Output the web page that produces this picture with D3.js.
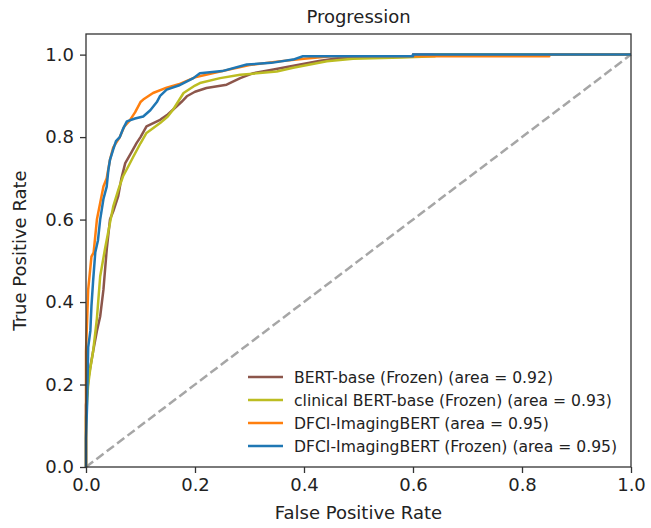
<!DOCTYPE html>
<html>
<head>
<meta charset="utf-8">
<script src="https://cdn.jsdelivr.net/npm/d3@7"></script>
<style>
  body { margin: 0; background: #fff; }
  text { font-family: "DejaVu Sans", sans-serif; fill: #222; }
</style>
</head>
<body>
<script>
// ROC points [fpr, tpr]
var bertBase = [[0,0],[0,0.15],[0.005,0.22],[0.013,0.28],[0.02,0.33],[0.026,0.365],[0.032,0.43],[0.038,0.527],[0.044,0.60],[0.05,0.62],[0.059,0.656],[0.065,0.70],[0.072,0.737],[0.082,0.76],[0.093,0.786],[0.1,0.80],[0.111,0.826],[0.136,0.842],[0.15,0.855],[0.16,0.867],[0.175,0.885],[0.185,0.899],[0.2,0.91],[0.221,0.919],[0.258,0.927],[0.283,0.943],[0.307,0.955],[0.344,0.964],[0.393,0.976],[0.43,0.985],[0.466,0.992],[0.6,0.996],[0.6,1.0],[1,1]];
var clinicalBert = [[0,0],[0,0.12],[0.004,0.2],[0.008,0.24],[0.013,0.28],[0.02,0.36],[0.026,0.462],[0.035,0.53],[0.044,0.592],[0.05,0.632],[0.06,0.675],[0.068,0.705],[0.078,0.73],[0.087,0.753],[0.1,0.785],[0.111,0.81],[0.136,0.834],[0.15,0.85],[0.16,0.867],[0.179,0.907],[0.2,0.925],[0.209,0.931],[0.246,0.943],[0.283,0.951],[0.35,0.959],[0.38,0.968],[0.442,0.984],[0.49,0.99],[0.58,0.993],[0.64,0.996],[0.64,1.0],[1,1]];
var imagingBert = [[0,0],[0,0.28],[0.004,0.43],[0.007,0.47],[0.010,0.51],[0.014,0.52],[0.020,0.60],[0.026,0.64],[0.032,0.68],[0.038,0.70],[0.044,0.745],[0.05,0.775],[0.062,0.80],[0.07,0.825],[0.08,0.84],[0.09,0.86],[0.1,0.885],[0.105,0.891],[0.123,0.907],[0.148,0.92],[0.17,0.928],[0.2,0.945],[0.25,0.96],[0.3,0.975],[0.35,0.983],[0.4,0.99],[0.45,0.996],[0.85,0.996],[0.85,1.0],[1,1]];
var imagingBertFrozen = [[0,0],[0,0.07],[0.002,0.15],[0.004,0.29],[0.008,0.33],[0.010,0.39],[0.013,0.45],[0.017,0.52],[0.022,0.55],[0.026,0.60],[0.032,0.65],[0.038,0.68],[0.041,0.72],[0.044,0.745],[0.05,0.77],[0.055,0.79],[0.062,0.80],[0.068,0.82],[0.075,0.838],[0.09,0.845],[0.105,0.85],[0.118,0.865],[0.13,0.885],[0.136,0.90],[0.148,0.915],[0.17,0.925],[0.197,0.943],[0.209,0.955],[0.25,0.96],[0.295,0.976],[0.34,0.98],[0.38,0.988],[0.398,0.996],[0.6,0.996],[0.6,1.0],[1,1]];

var seriesNames = ["BERT-base (Frozen) (area = 0.92)", "clinical BERT-base (Frozen) (area = 0.93)",
                   "DFCI-ImagingBERT (area = 0.95)", "DFCI-ImagingBERT (Frozen) (area = 0.95)"];
var seriesData = [bertBase, clinicalBert, imagingBert, imagingBertFrozen];
var colors = ["#8c564b", "#bcbd22", "#ff7f0e", "#1f77b4"];
var ticks = [0, 0.2, 0.4, 0.6, 0.8, 1.0];

var width = 651, height = 528;
var plotL = 86, plotR = 631, plotT = 34, plotB = 467;

var svg = d3.select('body')
    .append("svg")
    .attr('width', width)
    .attr('height', height);

var x = d3.scaleLinear().domain([0, 1]).range([plotL, plotR]);
var y = d3.scaleLinear().domain([0, 1.05]).range([plotB, plotT]);

// chance line
svg.append('line')
    .attr('x1', x(0)).attr('y1', y(0))
    .attr('x2', x(1)).attr('y2', y(1))
    .style('stroke', "#a6a6a6")
    .style('stroke-width', 2.5)
    .style('stroke-dasharray', "9,4");

var line = d3.line()
    .x(function(d) { return x(d[0]); })
    .y(function(d) { return y(d[1]); });

seriesData.forEach(function(s, i) {
    svg.append('path')
        .datum(s)
        .attr('d', line)
        .style('fill', "none")
        .style('stroke', colors[i])
        .style('stroke-width', 2.5)
        .style('stroke-linejoin', "round");
});

// frame
svg.append('rect')
    .attr('x', plotL).attr('y', plotT)
    .attr('width', plotR - plotL).attr('height', plotB - plotT)
    .style('fill', "none")
    .style('stroke', "#333")
    .style('stroke-width', 1.3);

var xAxis = svg.append('g')
    .attr('transform', "translate(0," + plotB + ")")
    .call(d3.axisBottom(x).tickValues(ticks).tickFormat(d3.format(".1f")).tickSize(6).tickPadding(5));
var yAxis = svg.append('g')
    .attr('transform', "translate(" + plotL + ",0)")
    .call(d3.axisLeft(y).tickValues(ticks).tickFormat(d3.format(".1f")).tickSize(6).tickPadding(6));

[xAxis, yAxis].forEach(function(a) {
    a.select('.domain').remove();
    a.selectAll('line').style('stroke', "#333").style('stroke-width', 1.3);
    a.selectAll('text')
        .style('font-family', "DejaVu Sans")
        .style('font-size', "18px")
        .style('fill', "#222");
});

svg.append('text')
    .attr('x', (plotL + plotR) / 2)
    .attr('y', 23)
    .attr('text-anchor', "middle")
    .style('font-size', "18px")
    .text("Progression");

svg.append('text')
    .attr('x', (plotL + plotR) / 2)
    .attr('y', 519)
    .attr('text-anchor', "middle")
    .style('font-size', "18px")
    .text("False Positive Rate");

svg.append('text')
    .attr('transform', "translate(26," + ((plotT + plotB) / 2) + ") rotate(-90)")
    .attr('text-anchor', "middle")
    .style('font-size', "18px")
    .text("True Positive Rate");

// legend
var legend = svg.append('g');
seriesNames.forEach(function(name, i) {
    var ly = 377 + i * 23;
    legend.append('line')
        .attr('x1', 248).attr('x2', 283)
        .attr('y1', ly).attr('y2', ly)
        .style('stroke', colors[i])
        .style('stroke-width', 2.5);
    legend.append('text')
        .attr('x', 294)
        .attr('y', ly + 5.5)
        .style('font-size', "15.6px")
        .text(name);
});
</script>
</body>
</html>
